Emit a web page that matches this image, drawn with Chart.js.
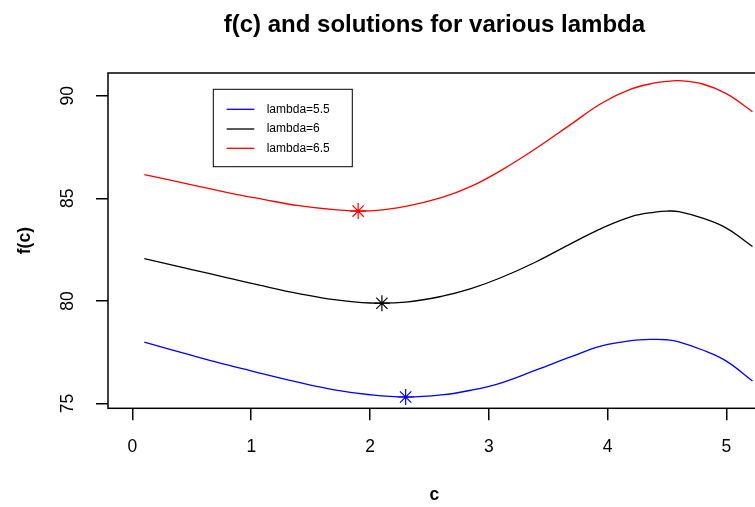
<!DOCTYPE html>
<html>
<head>
<meta charset="utf-8">
<script src="https://cdn.jsdelivr.net/npm/chart.js@4/dist/chart.umd.min.js"></script>
<style>
  html, body { margin: 0; padding: 0; overflow: hidden; background: #fff; width: 755px; height: 507px; }
  #wrap { width: 770px; height: 507px; }
</style>
</head>
<body>
<div id="wrap"><canvas id="c" width="770" height="507"></canvas></div>
<script>
// ---- data ----
const cVals = [0.1, 0.5, 0.8, 1.1, 1.4, 1.7, 2.0, 2.3, 2.6, 2.85, 3.1, 3.4, 3.7, 3.95, 4.2, 4.4, 4.5, 4.6, 4.8, 5.0, 5.22];
const fLambda55 = [77.99, 77.35, 76.88, 76.45, 76.03, 75.67, 75.43, 75.32, 75.42, 75.65, 76.00, 76.64, 77.30, 77.81, 78.07, 78.13, 78.11, 78.01, 77.61, 77.07, 76.10];
const fLambda6  = [82.06, 81.53, 81.13, 80.73, 80.36, 80.06, 79.90, 79.94, 80.22, 80.60, 81.13, 81.91, 82.82, 83.54, 84.11, 84.33, 84.38, 84.35, 84.03, 83.55, 82.65];
const fLambda65 = [86.15, 85.66, 85.28, 84.95, 84.64, 84.45, 84.39, 84.61, 85.03, 85.58, 86.35, 87.44, 88.64, 89.63, 90.33, 90.62, 90.70, 90.73, 90.57, 90.10, 89.22];
const solC = [2.3, 2.1, 1.9];
const solF = [75.32, 79.89, 84.38];
const seriesLabels = ['lambda=5.5', 'lambda=6', 'lambda=6.5'];
const seriesColors = ['#0000FF', '#000000', '#FF0000'];
const xTicks = [0, 1, 2, 3, 4, 5];
const yTicks = [75, 80, 85, 90];

const FONT = '"Liberation Sans", Arial, Helvetica, sans-serif';
const curves = [fLambda55, fLambda6, fLambda65];

const datasets = [];
curves.forEach((arr, i) => {
  datasets.push({
    label: seriesLabels[i],
    data: cVals.map((c, j) => ({ x: c, y: arr[j] })),
    borderColor: seriesColors[i],
    borderWidth: 1.3,
    pointRadius: 0,
    fill: false,
    tension: 0.4
  });
});
solC.forEach((c, i) => {
  datasets.push({
    label: 'sol ' + seriesLabels[i],
    data: [{ x: c, y: solF[i] }],
    showLine: false,
    pointStyle: 'star',
    pointRadius: 8,
    pointBorderWidth: 1.2,
    pointBorderColor: seriesColors[i],
    pointBackgroundColor: seriesColors[i]
  });
});

const boxPlugin = {
  id: 'rbox',
  afterDraw(chart) {
    const { ctx, chartArea: a, scales } = chart;
    ctx.save();
    // frame
    ctx.strokeStyle = '#000';
    ctx.lineWidth = 1.5;
    ctx.strokeRect(a.left, a.top, a.right - a.left, a.bottom - a.top);
    // y tick labels, rotated like R
    ctx.fillStyle = '#000';
    ctx.font = '17.5px ' + FONT;
    ctx.textAlign = 'center';
    ctx.textBaseline = 'middle';
    yTicks.forEach(v => {
      const py = scales.y.getPixelForValue(v);
      ctx.save();
      ctx.translate(68, py);
      ctx.rotate(-Math.PI / 2);
      ctx.fillText(String(v), 0, 0);
      ctx.restore();
    });
    // legend
    const lx = 213.3, ly = 89.3, lw = 139, lh = 77.4;
    ctx.lineWidth = 1;
    ctx.strokeStyle = '#000';
    ctx.strokeRect(lx, ly, lw, lh);
    ctx.font = '12px ' + FONT;
    ctx.textAlign = 'left';
    const rows = [109.3, 129, 148.3];
    seriesLabels.forEach((lab, i) => {
      ctx.strokeStyle = seriesColors[i];
      ctx.lineWidth = 1.3;
      ctx.beginPath();
      ctx.moveTo(226.7, rows[i]);
      ctx.lineTo(254.3, rows[i]);
      ctx.stroke();
      ctx.fillStyle = '#000';
      ctx.fillText(lab, 266.7, rows[i]);
    });
    ctx.restore();
  }
};

new Chart(document.getElementById('c'), {
  type: 'line',
  data: { datasets },
  options: {
    responsive: false,
    animation: false,
    devicePixelRatio: 1,
    layout: { padding: { left: 0, right: 7, top: 0, bottom: 0 } },
    plugins: {
      legend: { display: false },
      tooltip: { enabled: false },
      title: {
        display: true,
        text: 'f(c) and solutions for various lambda',
        fullSize: false,
        color: '#000',
        font: { family: FONT, size: 24, weight: 'bold', lineHeight: 1.2 },
        padding: { top: 11, bottom: 33.2 }
      }
    },
    scales: {
      x: {
        type: 'linear',
        min: -0.206,
        max: 5.29,
        afterFit(s) { s.height = 98.7; },
        afterBuildTicks(s) { s.ticks = xTicks.map(v => ({ value: v })); },
        ticks: {
          color: '#000',
          padding: 16,
          maxRotation: 0,
          autoSkip: false,
          font: { family: FONT, size: 17.5, lineHeight: 1.2 },
          callback: v => String(v)
        },
        grid: { drawOnChartArea: false, drawTicks: true, tickLength: 12, color: '#000', lineWidth: 1.5 },
        border: { display: false },
        title: {
          display: true,
          text: 'c',
          color: '#000',
          font: { family: FONT, size: 17.5, weight: 'bold', lineHeight: 1.2 },
          padding: { top: 0, bottom: 1 }
        }
      },
      y: {
        type: 'linear',
        min: 74.77,
        max: 91.106,
        afterFit(s) { s.width = 108; },
        afterBuildTicks(s) { s.ticks = yTicks.map(v => ({ value: v })); },
        ticks: {
          color: 'rgba(0,0,0,0)',
          font: { family: FONT, size: 17.5 },
          callback: v => String(v)
        },
        grid: { drawOnChartArea: false, drawTicks: true, tickLength: 12, color: '#000', lineWidth: 1.5 },
        border: { display: false },
        title: {
          display: true,
          text: 'f(c)',
          color: '#000',
          font: { family: FONT, size: 17.5, weight: 'bold', lineHeight: 1.2 },
          padding: { top: 15, bottom: 0 }
        }
      }
    }
  },
  plugins: [boxPlugin]
});
</script>
</body>
</html>
